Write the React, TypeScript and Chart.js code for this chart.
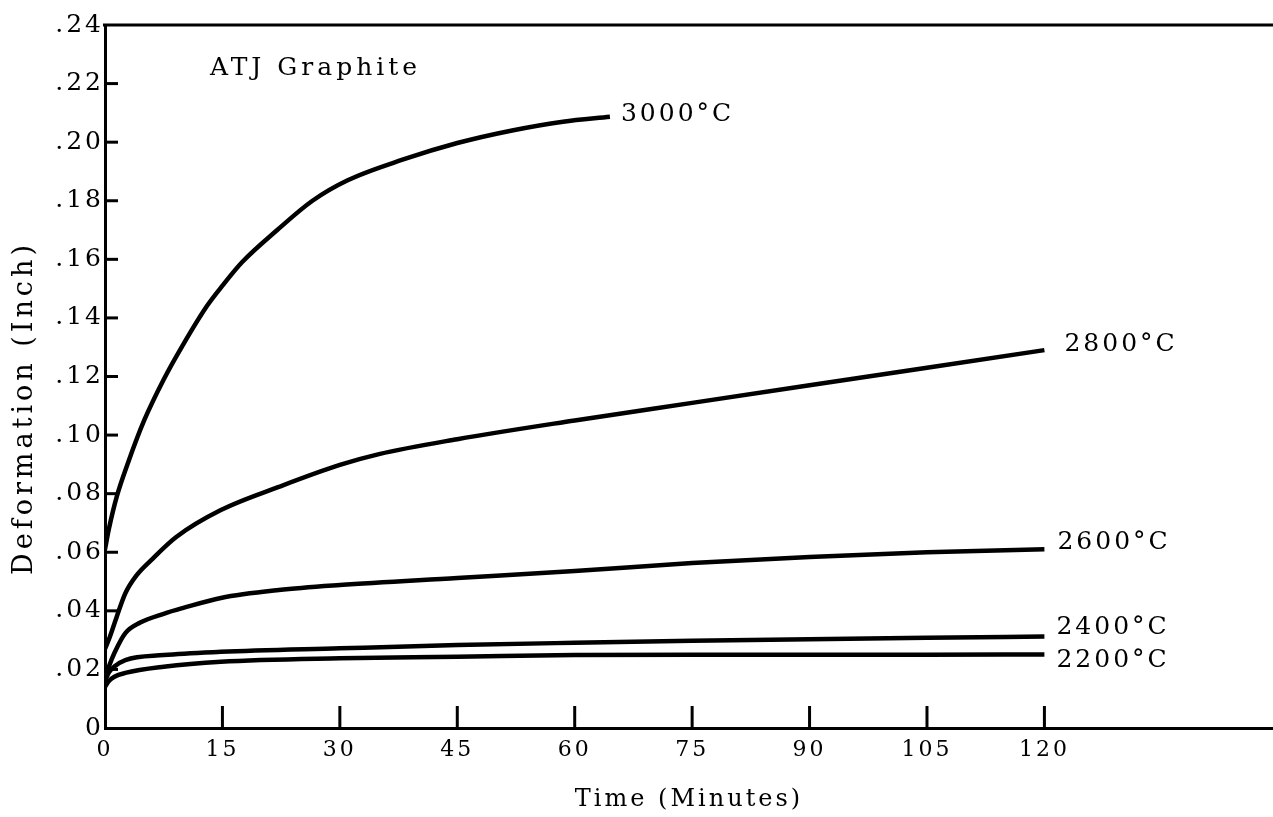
import { useEffect, useRef } from "react";
import { Chart, registerables } from "chart.js";

Chart.register(...registerables);

// Creep deformation of ATJ graphite at five test temperatures
const seriesNames = ["3000°C", "2800°C", "2600°C", "2400°C", "2200°C"];

const time3000 = [0, 0.5, 1.5, 3, 5, 7.5, 10, 13, 15, 17.5, 22, 26.5, 31, 38, 45, 52, 58.5, 64.5];
const defl3000 = [0.061, 0.068, 0.079, 0.091, 0.105, 0.119, 0.131, 0.144, 0.151, 0.159, 0.17, 0.18, 0.187, 0.194, 0.1997, 0.204, 0.207, 0.2087];

const time2800 = [0, 0.6, 1.5, 2.6, 4, 5.9, 9.1, 14.8, 22.2, 30, 35, 45, 60, 75, 90, 105, 120];
const defl2800 = [0.027, 0.031, 0.038, 0.046, 0.052, 0.0573, 0.0652, 0.0744, 0.0823, 0.0898, 0.0935, 0.0986, 0.105, 0.111, 0.117, 0.123, 0.129];

const time2600 = [0, 0.5, 1.2, 2.6, 4.5, 7.5, 10, 14.8, 22.2, 30, 45, 60, 75, 90, 105, 120];
const defl2600 = [0.017, 0.021, 0.0256, 0.0324, 0.036, 0.039, 0.041, 0.0444, 0.0471, 0.0488, 0.0512, 0.0536, 0.0563, 0.0584, 0.06, 0.061];

const time2400 = [0, 0.5, 1.2, 2.6, 7.5, 14.8, 30, 45, 60, 75, 90, 105, 120];
const defl2400 = [0.016, 0.019, 0.021, 0.0232, 0.0249, 0.026, 0.0272, 0.0283, 0.0291, 0.0298, 0.0303, 0.0308, 0.0312];

const time2200 = [0, 0.5, 1.2, 2.6, 7.5, 14.8, 30, 45, 60, 75, 90, 105, 120];
const defl2200 = [0.014, 0.016, 0.0175, 0.0188, 0.0209, 0.0226, 0.0238, 0.0243, 0.0249, 0.025, 0.025, 0.025, 0.0251];

const xTickValues = [0, 15, 30, 45, 60, 75, 90, 105, 120];
const xTickLabels = ["0", "15", "30", "45", "60", "75", "90", "105", "120"];
const yTickValues = [0, 0.02, 0.04, 0.06, 0.08, 0.1, 0.12, 0.14, 0.16, 0.18, 0.2, 0.22, 0.24];
const yTickLabels = ["0", ".02", ".04", ".06", ".08", ".10", ".12", ".14", ".16", ".18", ".20", ".22", ".24"];

const noteText = "ATJ Graphite";
const xTitle = "Time (Minutes)";
const yTitle = "Deformation (Inch)";

const FONT = "'DejaVu Serif', serif";

const toPoints = (t: number[], v: number[]) => t.map((x, i) => ({ x, y: v[i] }));

// Per-curve nudges for the end labels (pixels)
const endLabelShift = [
  { dx: 11, dy: -2 },
  { dx: 20, dy: -6 },
  { dx: 13, dy: -7 },
  { dx: 12, dy: -9 },
  { dx: 12, dy: 6 },
];

const inkPlugin = {
  id: "ink",
  beforeDraw(chart: any) {
    chart.ctx.letterSpacing = "3px";
  },
  afterDraw(chart: any) {
    const { ctx, chartArea } = chart;
    const xs = chart.scales.x;
    const ys = chart.scales.y;
    ctx.save();
    ctx.strokeStyle = "#000";
    ctx.lineWidth = 3;
    ctx.lineCap = "butt";

    // top frame line
    ctx.beginPath();
    ctx.moveTo(chartArea.left - 2, chartArea.top);
    ctx.lineTo(chartArea.right, chartArea.top);
    ctx.stroke();

    // inward tick marks on the time axis
    xTickValues.forEach((v) => {
      if (v === 0) return;
      const px = xs.getPixelForValue(v);
      ctx.beginPath();
      ctx.moveTo(px, chartArea.bottom);
      ctx.lineTo(px, chartArea.bottom - 22);
      ctx.stroke();
    });

    // inward tick marks on the deformation axis
    yTickValues.forEach((v) => {
      if (v === 0 || v >= 0.24) return;
      const py = ys.getPixelForValue(v);
      ctx.beginPath();
      ctx.moveTo(chartArea.left, py);
      ctx.lineTo(chartArea.left + 13, py);
      ctx.stroke();
    });

    ctx.fillStyle = "#000";
    ctx.letterSpacing = "3px";
    ctx.font = `25px ${FONT}`;
    ctx.textBaseline = "middle";
    ctx.textAlign = "left";

    // temperature labels at the end of each curve
    chart.data.datasets.forEach((ds: any, i: number) => {
      const meta = chart.getDatasetMeta(i);
      const last = meta.data[meta.data.length - 1];
      const s = endLabelShift[i];
      ctx.fillText(ds.label, last.x + s.dx, last.y + s.dy);
    });

    // material note
    ctx.letterSpacing = "4px";
    ctx.fillText(noteText, chartArea.left + 105, chartArea.top + 43);

    // vertical axis title
    ctx.save();
    ctx.font = `27px ${FONT}`;
    ctx.translate(25, 408);
    ctx.rotate(-Math.PI / 2);
    ctx.textAlign = "center";
    ctx.fillText(yTitle, 0, 0);
    ctx.restore();

    ctx.restore();
  },
};

export default function App() {
  const canvasRef = useRef<HTMLCanvasElement | null>(null);

  useEffect(() => {
    if (!canvasRef.current) return;
    Chart.defaults.font.family = FONT;
    Chart.defaults.color = "#000";

    const series = [
      toPoints(time3000, defl3000),
      toPoints(time2800, defl2800),
      toPoints(time2600, defl2600),
      toPoints(time2400, defl2400),
      toPoints(time2200, defl2200),
    ];

    const chart = new Chart(canvasRef.current, {
      type: "line",
      data: {
        datasets: series.map((data, i) => ({
          label: seriesNames[i],
          data,
          borderColor: "#000",
          borderWidth: 4.5,
          pointRadius: 0,
          fill: false,
          cubicInterpolationMode: "monotone" as const,
        })),
      },
      options: {
        animation: false,
        responsive: true,
        maintainAspectRatio: false,
        layout: { padding: { top: 25, right: 0, bottom: 0, left: 0 } },
        plugins: {
          legend: { display: false },
          tooltip: { enabled: false },
        },
        scales: {
          x: {
            type: "linear",
            min: 0,
            max: 149.2,
            afterBuildTicks: (scale: any) => {
              scale.ticks = xTickValues.map((value) => ({ value }));
            },
            afterFit: (scale: any) => {
              scale.height = 89;
              scale.paddingLeft = 0;
              scale.paddingRight = 0;
            },
            grid: { display: false, drawTicks: false },
            border: { display: true, color: "#000", width: 3 },
            ticks: {
              autoSkip: false,
              maxRotation: 0,
              padding: 9,
              font: { size: 22 },
              color: "#000",
              callback: (_v: any, i: number) => xTickLabels[i],
            },
            title: {
              display: true,
              text: xTitle,
              font: { size: 24 },
              color: "#000",
              padding: { top: 0, bottom: 3 },
            },
          },
          y: {
            type: "linear",
            min: 0,
            max: 0.24,
            afterBuildTicks: (scale: any) => {
              scale.ticks = yTickValues.map((value) => ({ value }));
            },
            afterFit: (scale: any) => {
              scale.width = 105;
              scale.paddingTop = 0;
              scale.paddingBottom = 0;
            },
            grid: { display: false, drawTicks: false },
            border: { display: true, color: "#000", width: 3 },
            ticks: {
              autoSkip: false,
              padding: 1,
              font: { size: 25 },
              color: "#000",
              callback: (_v: any, i: number) => yTickLabels[i],
            },
          },
        },
      },
      plugins: [inkPlugin],
    });

    return () => chart.destroy();
  }, []);

  return (
    <div style={{ position: "absolute", left: 0, top: 0, width: 1273, height: 817, background: "#fff" }}>
      <canvas ref={canvasRef} />
    </div>
  );
}
